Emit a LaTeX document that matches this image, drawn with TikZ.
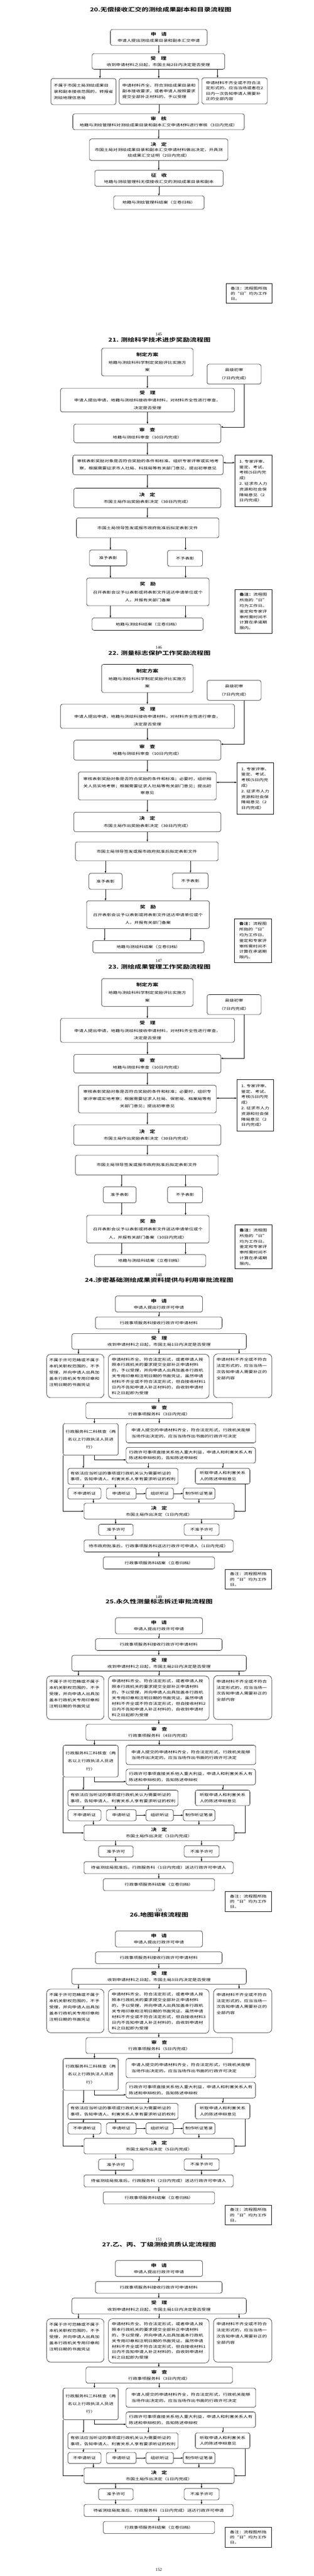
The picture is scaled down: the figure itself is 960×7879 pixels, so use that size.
\documentclass[tikz,border=0pt]{standalone}
\usepackage{fontspec}
\setmainfont{Noto Sans CJK SC}[FakeStretch=1.32,BoldFont=* Bold]
\newfontfamily\pagenumfont{Liberation Serif}
\usetikzlibrary{arrows.meta}
\newcommand\bodyfont[1]{\fontsize{10.6pt}{#1pt}\selectfont}
\newcommand\hd[1]{{\fontsize{12.8pt}{14pt}\selectfont\bfseries #1}}
\newcommand\hgap{\hspace{15pt}}
\newcommand\topbox[3]{\parbox[c][#1pt][t]{#2pt}{#3}}
\tikzset{
	box/.style 2 args={draw,line width=0.9pt,rounded corners=6pt,inner sep=0pt,minimum width=#1pt,minimum height=#2pt,align=center,font=\bodyfont{19}},
	lbox/.style 2 args={box={#1}{#2},align=left},
	cbox/.style 2 args={box={#1}{#2},rounded corners=12pt,align=left},
	sqbox/.style 2 args={draw,line width=1pt,inner sep=0pt,minimum width=#1pt,minimum height=#2pt,align=left,font=\bodyfont{17}},
	notebox/.style 2 args={sqbox={#1}{#2},line width=1.5pt},
	ls/.style={font=\bodyfont{#1}},
	arr/.style={-{Latex[length=6pt,width=5pt]},line width=0.7pt},
	darr/.style={{Latex[length=6pt,width=5pt]}-{Latex[length=6pt,width=5pt]},line width=0.7pt},
	ttl/.style={font=\fontsize{16pt}{18pt}\selectfont\bfseries},
	pgno/.style={font=\pagenumfont\fontsize{13pt}{14pt}\selectfont}
}
\newcommand\permitflow[9]{%
	\begin{scope}[shift={(0,#1)}]
		\node[pgno] (pg) at (486,3900) {#8};
		\node[ttl] (ttl) at (487,3915) {#2};
		\node[box={267}{49}] (sq) at (486.5,3988.5) {\hd{申\hgap 请}\\申请人提出行政许可申请};
		\node[box={388}{36}] (js) at (486,4046) {行政事项服务科接收行政许可申请材料};
		\node[box={534}{48}] (sl) at (487,4103) {\hd{受\hgap 理}\\收到申请材料之日起，市国土局#3日内决定是否受理};
		\node[cbox={175}{133},ls=18.8] (bsl) at (230.5,4208.5) {\topbox{107}{160}{不属于许可范畴或不属于\\本机关职权范围的，不予\\受理，并向申请人出具加\\盖本行政机关专用印章和\\注明日期的书面凭证}};
		\node[cbox={308}{135},ls=17.3] (ysl) at (486,4209.5) {申请材料齐全、符合法定形式，或者申请人按\\照本行政机关的要求提交全部补正申请材料\\的，予以受理，并向申请人出具加盖本行政机\\关专用印章和注明日期的书面凭证。虽然申请\\材料不齐全或不符合法定形式，但自接收材料#4\\日内不告知申请人补正材料的，自收到申请材\\料之日起即为受理};
		\node[cbox={178}{134},ls=18.6] (bz) at (743,4208) {\topbox{108}{160}{申请材料不齐全或不符合\\法定形式的，应当当场一\\次告知申请人需要补正的\\全部内容}};
		\node[box={449}{49}] (sc) at (487.5,4314.5) {\hd{审\hgap 查}\\行政事项服务科（#5日内完成）};
		\node[box={169}{97},ls=24] (hc) at (277.5,4402.5) {行政服务科二科核查（两\\名以上行政执法人员进\\行）};
		\node[lbox={397}{59},ls=18] (dc) at (584.5,4383.5) {申请人提交的申请材料齐全，符合法定形式，行政机关能够\\当场作出决定的，应当当场作出书面的行政许可决定};
		\node[lbox={396}{48},ls=18.5] (cs) at (584,4451) {行政许可事项直接关系他人重大利益，申请人和利害关系人有\\陈述和申辩权的，告知陈述申辩权};
		\node[lbox={337}{49},ls=18.5] (tz) at (376.5,4515.5) {有依法应当听证的事项或行政机关认为需要听证的\\事项，告知申请人、利害关系人享有要求听证的权利};
		\node[lbox={167}{48},ls=18.5] (tq) at (681.5,4515) {听取申请人和利害关系\\人的陈述申辩意见};
		\node[box={101}{34}] (bsq) at (258.5,4568) {不申请听证};
		\node[box={91}{34}] (sqt) at (371.5,4568) {申请听证};
		\node[box={84}{34}] (zz) at (489,4568) {组织听证};
		\node[box={97}{34}] (bl) at (609.5,4568) {制作听证笔录};
		\node[box={460}{48}] (jd) at (487,4622) {\hd{决\hgap 定}\\市国土局作出决定（#6日内完成）};
		\node[box={106}{34}] (zy) at (355,4679) {准予许可};
		\node[box={107}{35}] (bzy) at (617.5,4678.5) {不准予许可};
		\node[box={457}{37}] (sd) at (485.5,4728.5) {#7};
		\node[box={341}{37}] (ja) at (486.5,4780.5) {行政事项服务科结案（立卷归档）};
		\node[notebox={142}{61},ls=16] (nt) at (760,#9) {备注：流程图所指\\的“日”均为工作\\日。};
		\draw[arr] (sq) -- (sq |- js.north);
		\draw[arr] (js) -- (js |- sl.north);
		\draw[arr] (240,0 |- sl.south) -- (240,0 |- bsl.north);
		\draw[arr] (sl) -- (sl |- ysl.north);
		\draw[arr] (732,0 |- sl.south) -- (732,0 |- bz.north);
		\draw[arr] (ysl) -- (ysl |- sc.north);
		\draw[arr] (289,0 |- sc.south) -- (289,0 |- hc.north);
		\draw[arr] (sc) -- (sc |- dc.north);
		\draw[arr] (289,0 |- hc.south) |- (cs.west |- 0,4465);
		\draw[arr] (255,0 |- hc.south) -- (255,0 |- tz.north);
		\draw[arr] (454,0 |- cs.south) -- (454,0 |- tz.north);
		\draw[arr] (682,0 |- cs.south) -- (682,0 |- tq.north);
		\draw[arr] (255,0 |- tz.south) -- (255,0 |- bsq.north);
		\draw[arr] (354,0 |- tz.south) -- (354,0 |- sqt.north);
		\draw[arr] (sqt) -- (zz);
		\draw[arr] (zz) -- (bl);
		\draw[arr] (286,0 |- bsq.south) -- (286,0 |- jd.north);
		\draw[arr] (609,0 |- bl.south) -- (609,0 |- jd.north);
		\draw[arr] (hc.south west) |- (jd.west);
		\draw[arr] (750,0 |- tq.south) |- (jd.east);
		\draw[arr] (354,0 |- jd.south) -- (354,0 |- zy.north);
		\draw[arr] (617,0 |- jd.south) -- (617,0 |- bzy.north);
		\draw[arr] (354,0 |- zy.south) -- (354,0 |- sd.north);
		\draw[arr] (617,0 |- bzy.south) -- (617,0 |- sd.north);
		\draw[arr] (486,0 |- sd.south) -- (486,0 |- ja.north);
	\end{scope}}
\begin{document}
\begin{tikzpicture}[x=1pt,y=-1pt]
	\fill[white] (0,0) rectangle (960,7879);
	\useasboundingbox (0,0) rectangle (960,7879);
	% 20
	\node[ttl] (t20) at (492,30) {20.无偿接收汇交的测绘成果副本和目录流程图};
	\node[box={296}{49}] (a20) at (486,114.5) {\hd{申\hgap 请}\\申请人提出测绘成果目录和副本汇交申请};
	\node[box={406}{48}] (b20) at (485,188) {\hd{受\hgap 理}\\收到申请材料之日起，市国土局2日内决定是否受理};
	\node[lbox={199}{80},ls=18.5] (c20a) at (255.5,280) {不属于市国土局测绘成果目\\录和副本接收范围的，转报省\\测绘地理信息局};
	\node[lbox={243}{79},ls=17.5] (c20b) at (486.5,279.5) {申请材料齐全、符合测绘成果目录和\\副本接收要求，或者申请人按照要求\\提交全部补正材料的，予以受理};
	\node[lbox={200}{80},ls=16.5] (c20c) at (718,278) {申请材料不齐全或不符合法\\定形式的，应当当场或者在2\\日内一次告知申请人需要补\\正的全部内容};
	\node[box={525}{49}] (d20) at (485.5,372.5) {\hd{审\hgap 核}\\地籍与测绘管理科对测绘成果目录和副本汇交申请材料进行审核（3日内完成）};
	\node[box={424}{66},ls=17] (e20) at (486,458) {\hd{决\hgap 定}\\市国土局对测绘成果目录和副本汇交申请材料做出决定，开具测\\绘成果汇交证明（2日内完成）};
	\node[box={393}{49}] (f20) at (486.5,545.5) {\hd{征\hgap 收}\\地籍与测绘管理科无偿接收汇交的测绘成果目录和副本};
	\node[box={277}{41}] (g20) at (486.5,619.5) {地籍与测绘管理科结案（立卷归档）};
	\node[notebox={140}{61},ls=16] (n20) at (762,897.5) {备注：流程图所指\\的“日”均为工作\\日。};
	\node[pgno] (p145) at (486,1022) {145};
	\draw[arr] (a20) -- (a20 |- b20.north);
	\foreach \x/\c in {306/c20a,486/c20b,666/c20c}
		\draw[arr] (\x,0 |- b20.south) -- (\x,0 |- \c.north);
	\draw[arr] (c20b) -- (c20b |- d20.north);
	\draw[arr] (d20) -- (d20 |- e20.north);
	\draw[arr] (e20) -- (e20 |- f20.north);
	\draw[arr] (f20) -- (f20 |- g20.north);
	% 21
	\node[ttl] (t21) at (488,1039) {21. 测绘科学技术进步奖励流程图};
	\node[box={280}{85},ls=23] (fa21) at (451,1107.5) {\hd{制定方案}\\地籍与测绘科科学制定奖励评比实施方\\案};
	\node[box={165}{61},ls=25] (xj21) at (716.5,1144.5) {县级初审\\（7日内完成）};
	\node[box={533}{72},ls=23] (sl21) at (451.5,1224) {\hd{受\hgap 理}\\申请人提出申请，地籍与测绘科接收申请材料，对材料齐全性进行审查，\\决定是否受理};
	\node[box={450}{57},ls=21] (sc21) at (451,1325.5) {\hd{审\hgap 查}\\地籍与测绘科审查（10日内完成）};
	\node[box={460}{60},ls=22] (sh21) at (453,1422) {审核表彰奖励对象是否符合奖励的条件和标准。组织专家评审或实地考\\察，根据需要征求市人社局、科技局等有关部门意见，提出初审意见};
	\node[sqbox={113}{158}] (zj21) at (775.5,1471) {1. 专家评审、\\鉴定、考试、\\考核(5日内完\\成)\\2. 征求市人力\\资源和社会保\\障局意见（2\\日内完成）};
	\node[box={450}{60},ls=21] (jd21) at (451,1523) {\hd{决\hgap 定}\\市国土局作出奖励表彰决定（30日内完成）};
	\node[box={436}{61}] (qf21) at (452,1614.5) {市国土局领导签发或报市政府批准后拟定表彰文件};
	\node[box={114}{49}] (zy21) at (331,1706.5) {准予表彰};
	\node[box={107}{49}] (by21) at (566.5,1707.5) {不予表彰};
	\node[box={375}{85},ls=24] (jl21) at (452.5,1810.5) {\hd{奖\hgap 励}\\召开表彰会议予以表彰或将表彰文件送达申请单位或个\\人，并报有关部门备案};
	\node[box={340}{38}] (ja21) at (452,1909) {地籍与测绘科结案（立卷归档）};
	\node[notebox={113}{134},ls=17] (n21) at (775.5,1870) {\textbf{备注：}流程图\\所指的“日”\\均为工作日。\\鉴定和专家评\\审所需时间不\\计算在承诺期\\限内。};
	\node[pgno] (p146) at (486,1980) {146};
	\draw[arr] (fa21) -- (fa21 |- sl21.north);
	\draw[arr] (sl21) -- (sl21 |- sc21.north);
	\draw[arr] (748,0 |- xj21.south) |- (sc21.east |- 0,1306);
	\draw[arr] (sc21) -- (sc21 |- sh21.north);
	\draw[darr] (sh21.east |- 0,1415) -- (zj21.west |- 0,1415);
	\draw[arr] (jd21 |- sh21.south) -- (jd21.north);
	\draw[arr] (jd21) -- (jd21 |- qf21.north);
	\foreach \x/\c in {338/zy21,568/by21} {
		\draw[arr] (\x,0 |- qf21.south) -- (\x,0 |- \c.north);
		\draw[arr] (\x,0 |- \c.south) -- (\x,0 |- jl21.north);
		\draw[arr] (\x,0 |- jl21.south) -- (\x,0 |- ja21.north);
	}
	% 22
	\node[ttl] (t22) at (488,1997) {22. 测量标志保护工作奖励流程图};
	\node[box={280}{86},ls=23] (fa22) at (451,2075) {\hd{制定方案}\\地籍与测绘科科学制定奖励评比实施方\\案};
	\node[box={165}{61},ls=25] (xj22) at (716.5,2111.5) {县级初审\\（7日内完成）};
	\node[box={533}{74},ls=23] (sl22) at (451.5,2191) {\hd{受\hgap 理}\\申请人提出申请，地籍与测绘科接收申请材料，对材料齐全性进行审查，\\决定是否受理};
	\node[box={450}{61},ls=21] (sc22) at (451,2294.5) {\hd{审\hgap 查}\\地籍与测绘科审查（10日内完成）};
	\node[box={422}{86},ls=21] (sh22) at (451,2404) {审核表彰奖励对象是否符合奖励的条件和标准；必要时，组织相\\关人员实地考察；根据需要征求人社局等有关部门意见；提出初\\审意见};
	\node[sqbox={113}{159}] (zj22) at (781.5,2411.5) {1. 专家评审、\\鉴定、考试、\\考核(5日内完\\成)\\2. 征求市人力\\资源和社会保\\障局意见（2\\日内完成）};
	\node[box={450}{60},ls=21] (jd22) at (451,2514) {\hd{决\hgap 定}\\市国土局作出奖励表彰决定（30日内完成）};
	\node[box={437}{58}] (qf22) at (449.5,2604) {市国土局领导签发或报市政府批准后拟定表彰文件};
	\node[box={102}{49}] (zy22) at (323,2695.5) {准予表彰};
	\node[box={109}{48}] (by22) at (582.5,2694) {不予表彰};
	\node[box={376}{85},ls=24] (jl22) at (453,2797.5) {\hd{奖\hgap 励}\\召开表彰会议予以表彰或将表彰文件送达申请单位或个\\人，并报有关部门备案};
	\node[box={341}{37}] (ja22) at (454.5,2895.5) {地籍与测绘科结案（立卷归档）};
	\node[notebox={113}{134},ls=17] (n22) at (774.5,2877) {\textbf{备注：}流程图\\所指的“日”\\均为工作日。\\鉴定和专家评\\审所需时间不\\计算在承诺期\\限内。};
	\node[pgno] (p147) at (486,2938) {147};
	\draw[arr] (fa22) -- (fa22 |- sl22.north);
	\draw[arr] (sl22) -- (sl22 |- sc22.north);
	\draw[arr] (748,0 |- xj22.south) |- (sc22.east |- 0,2276);
	\draw[arr] (sc22) -- (sc22 |- sh22.north);
	\draw[darr] (sh22.east |- 0,2393) -- (zj22.west |- 0,2393);
	\draw[arr] (sh22) -- (sh22 |- jd22.north);
	\draw[arr] (jd22) -- (jd22 |- qf22.north);
	\foreach \x/\c in {323/zy22,583/by22} {
		\draw[arr] (\x,0 |- qf22.south) -- (\x,0 |- \c.north);
		\draw[arr] (\x,0 |- \c.south) -- (\x,0 |- jl22.north);
	}
	\foreach \x in {320,583}
		\draw[arr] (\x,0 |- jl22.south) -- (\x,0 |- ja22.north);
	% 23
	\node[ttl] (t23) at (488,2957) {23. 测绘成果管理工作奖励流程图};
	\node[box={280}{85},ls=23] (fa23) at (451,3035.5) {\hd{制定方案}\\地籍与测绘科科学制定奖励评比实施方\\案};
	\node[box={165}{61},ls=25] (xj23) at (716.5,3072.5) {县级初审\\（7日内完成）};
	\node[box={533}{73},ls=23] (sl23) at (451.5,3151.5) {\hd{受\hgap 理}\\申请人提出申请，地籍与测绘科接收申请材料，对材料齐全性进行审查，\\决定是否受理};
	\node[box={450}{57},ls=21] (sc23) at (451,3253.5) {\hd{审\hgap 查}\\地籍与测绘科审查（10日内完成）};
	\node[box={422}{85},ls=22] (sh23) at (451,3361.5) {审核表彰奖励对象是否符合奖励的条件和标准；必要时，组织专\\家评审或实地考察；根据需要征求人社局、保密局、档案局等有\\关部门意见；提出初审意见};
	\node[sqbox={113}{158}] (zj23) at (781.5,3381) {1. 专家评审、\\鉴定、考试、\\考核(5日内完\\成)\\2. 征求市人力\\资源和社会保\\障局意见（2\\日内完成）};
	\node[box={450}{63},ls=21] (jd23) at (451,3471.5) {\hd{决\hgap 定}\\市国土局作出奖励表彰决定（30日内完成）};
	\node[box={437}{61}] (qf23) at (449.5,3563.5) {市国土局领导签发或报市政府批准后拟定表彰文件};
	\node[box={101}{49}] (zy23) at (366.5,3654.5) {准予表彰};
	\node[box={107}{49}] (by23) at (566.5,3654.5) {不予表彰};
	\node[box={375}{85},ls=24] (jl23) at (452.5,3759.5) {\hd{奖\hgap 励}\\召开表彰会议予以表彰或将表彰文件送达申请单位或个\\人，并报有关部门备案（10日内完成）};
	\node[box={341}{37}] (ja23) at (459.5,3855.5) {地籍与测绘科结案（立卷归档）};
	\node[notebox={113}{134},ls=17] (n23) at (775.5,3814) {\textbf{备注：}流程图\\所指的“日”\\均为工作日。\\鉴定和专家评\\审所需时间不\\计算在承诺期\\限内。};
	\draw[arr] (fa23) -- (fa23 |- sl23.north);
	\draw[arr] (sl23) -- (sl23 |- sc23.north);
	\draw[arr] (748,0 |- xj23.south) |- (sc23.east |- 0,3237);
	\draw[arr] (sc23) -- (sc23 |- sh23.north);
	\draw[darr] (sh23.east |- 0,3359) -- (zj23.west |- 0,3359);
	\draw[arr] (sh23) -- (sh23 |- jd23.north);
	\draw[arr] (jd23) -- (jd23 |- qf23.north);
	\foreach \x/\c in {372/zy23,568/by23} {
		\draw[arr] (\x,0 |- qf23.south) -- (\x,0 |- \c.north);
		\draw[arr] (\x,0 |- \c.south) -- (\x,0 |- jl23.north);
		\draw[arr] (\x,0 |- jl23.south) -- (\x,0 |- ja23.north);
	}
	% 24-27
	\permitflow{0}{24.涉密基础测绘成果资料提供与利用审批流程图}{1}{1}{3}{1}{待市政府批准后，行政事项服务科送达行政许可申请人（1日内完成）}{148}{4830.5}
	\permitflow{984}{25.永久性测量标志拆迁审批流程图}{2}{2}{4}{3}{待省测绘局批准后，行政服务科（1日内完成）送达行政许可申请人}{149}{4832.5}
	\permitflow{1942}{26.地图审核流程图}{3}{3}{5}{5}{待省测绘局批准后，行政服务科（2日内完成）送达行政许可申请人}{150}{4833}
	\permitflow{2950}{27.乙、丙、丁级测绘资质认定流程图}{1}{1}{3}{1}{待省测绘局批准后，行政服务科（1日内完成）送达行政许可申请}{151}{4811}
	\node[pgno] (p152) at (486,7859) {152};
\end{tikzpicture}
\end{document}
